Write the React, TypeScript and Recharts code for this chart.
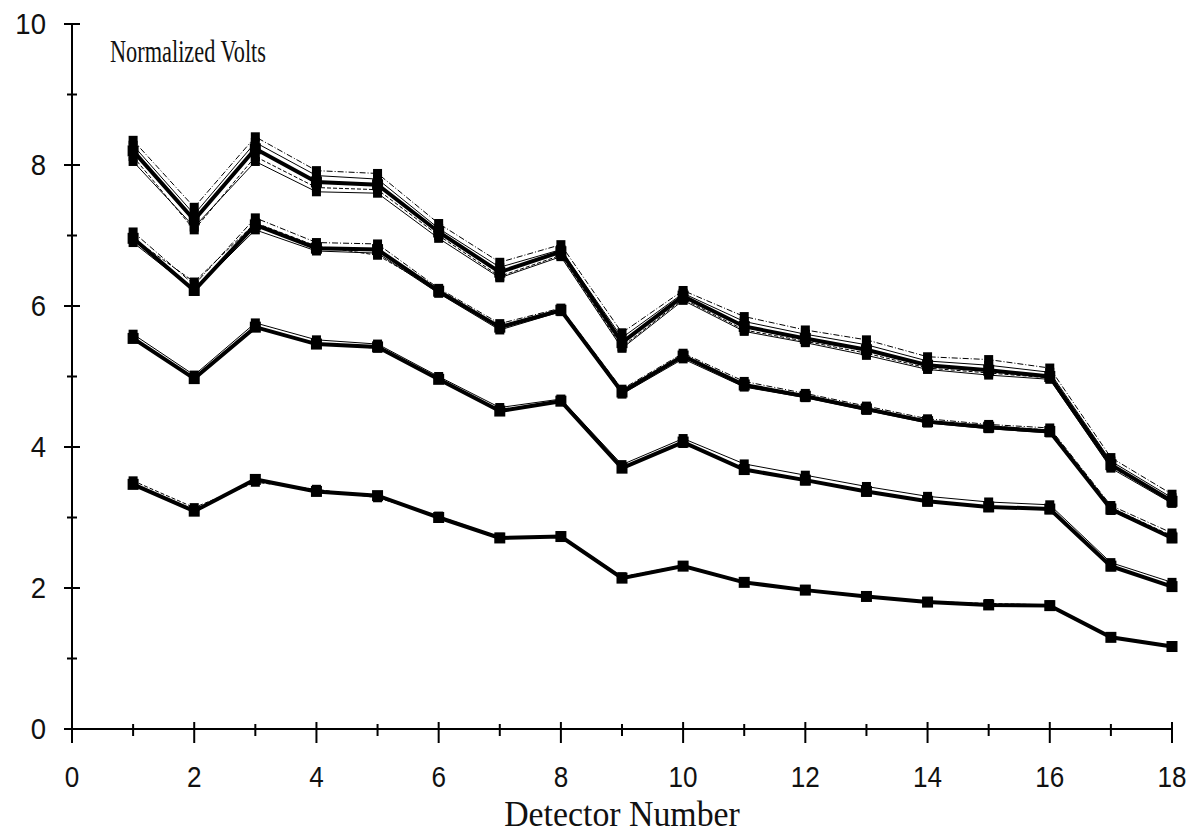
import React from 'react'
import { LineChart, Line, XAxis, YAxis } from 'recharts'

const detectors = [1, 2, 3, 4, 5, 6, 7, 8, 9, 10, 11, 12, 13, 14, 15, 16, 17, 18]
const xTicks = [0, 1, 2, 3, 4, 5, 6, 7, 8, 9, 10, 11, 12, 13, 14, 15, 16, 17, 18]
const yTicks = [0, 1, 2, 3, 4, 5, 6, 7, 8, 9, 10]

// top bundle
const g1Main = [8.2, 7.22, 8.23, 7.76, 7.72, 7.05, 6.48, 6.77, 5.48, 6.14, 5.71, 5.54, 5.38, 5.16, 5.09, 5.0, 3.75, 3.23]
const g1a = [8.35, 7.4, 8.4, 7.92, 7.88, 7.17, 6.62, 6.87, 5.62, 6.22, 5.85, 5.66, 5.52, 5.28, 5.24, 5.12, 3.85, 3.33]
const g1b = [8.28, 7.3, 8.32, 7.85, 7.8, 7.1, 6.55, 6.8, 5.55, 6.18, 5.78, 5.6, 5.45, 5.22, 5.16, 5.06, 3.8, 3.28]
const g1c = [8.12, 7.08, 8.12, 7.68, 7.65, 7.0, 6.42, 6.72, 5.42, 6.1, 5.66, 5.5, 5.33, 5.12, 5.05, 4.98, 3.72, 3.22]
const g1d = [8.05, 7.12, 8.05, 7.62, 7.6, 6.96, 6.4, 6.7, 5.4, 6.08, 5.64, 5.48, 5.3, 5.1, 5.02, 4.96, 3.7, 3.2]

// second bundle
const g2Main = [6.96, 6.22, 7.15, 6.82, 6.8, 6.21, 5.7, 5.94, 4.78, 5.29, 4.88, 4.72, 4.54, 4.36, 4.28, 4.22, 3.12, 2.71]
const g2a = [7.05, 6.3, 7.25, 6.9, 6.88, 6.25, 5.75, 5.97, 4.82, 5.33, 4.93, 4.76, 4.58, 4.4, 4.32, 4.27, 3.17, 2.78]
const g2b = [6.9, 6.22, 7.08, 6.78, 6.75, 6.18, 5.66, 5.92, 4.75, 5.25, 4.85, 4.7, 4.52, 4.34, 4.26, 4.2, 3.1, 2.7]
const g2c = [6.96, 6.34, 7.18, 6.85, 6.72, 6.22, 5.7, 5.95, 4.8, 5.3, 4.89, 4.73, 4.55, 4.37, 4.3, 4.24, 3.14, 2.74]

// third bundle
const g3Main = [5.54, 4.97, 5.7, 5.46, 5.42, 4.96, 4.51, 4.65, 3.7, 4.07, 3.68, 3.53, 3.37, 3.23, 3.15, 3.12, 2.31, 2.02]
const g3a = [5.6, 5.02, 5.76, 5.52, 5.46, 5.0, 4.56, 4.68, 3.75, 4.12, 3.76, 3.6, 3.44, 3.3, 3.22, 3.18, 2.36, 2.08]
const g3b = [5.55, 4.98, 5.7, 5.47, 5.4, 4.96, 4.52, 4.65, 3.7, 4.05, 3.68, 3.52, 3.36, 3.22, 3.14, 3.11, 2.3, 2.02]

// bottom bundle
const g4Main = [3.47, 3.09, 3.54, 3.37, 3.31, 3.0, 2.71, 2.73, 2.14, 2.31, 2.08, 1.97, 1.88, 1.8, 1.76, 1.75, 1.3, 1.17]
const g4a = [3.52, 3.14, 3.5, 3.4, 3.28, 3.02, 2.72, 2.74, 2.16, 2.32, 2.09, 1.98, 1.89, 1.81, 1.78, 1.76, 1.31, 1.18]

const series = [
  { key: 'g1a', values: g1a, main: false, dash: '6 2 1 2' },
  { key: 'g1b', values: g1b, main: false, dash: undefined },
  { key: 'g1c', values: g1c, main: false, dash: '4 2' },
  { key: 'g1d', values: g1d, main: false, dash: undefined },
  { key: 'g2a', values: g2a, main: false, dash: '6 2 1 2' },
  { key: 'g2b', values: g2b, main: false, dash: undefined },
  { key: 'g2c', values: g2c, main: false, dash: '4 2' },
  { key: 'g3a', values: g3a, main: false, dash: undefined },
  { key: 'g3b', values: g3b, main: false, dash: '6 2 1 2' },
  { key: 'g4a', values: g4a, main: false, dash: '4 2' },
  { key: 'g1', values: g1Main, main: true, dash: undefined },
  { key: 'g2', values: g2Main, main: true, dash: undefined },
  { key: 'g3', values: g3Main, main: true, dash: undefined },
  { key: 'g4', values: g4Main, main: true, dash: undefined },
]

const data = detectors.map((d, i) => {
  const row: Record<string, number> = { detector: d }
  series.forEach((s) => (row[s.key] = s.values[i]))
  return row
})

const sans = 'Liberation Sans, Arial, sans-serif'
const serif = 'Liberation Serif, Times New Roman, serif'

function XTick(props: any) {
  const { x, y, payload } = props
  const major = payload.value % 2 === 0
  return (
    <g>
      <line x1={x} x2={x} y1={y - (major ? 7 : 5)} y2={y + (major ? 14 : 7)} stroke="#000" strokeWidth={2} />
      {major && (
        <text transform={`translate(${x},${y + 58}) scale(0.9,1)`} textAnchor="middle" fontFamily={sans} fontSize={29} fill="#111">
          {payload.value}
        </text>
      )}
    </g>
  )
}

function YTick(props: any) {
  const { x, y, payload } = props
  const major = payload.value % 2 === 0
  const len = major ? 8 : 5
  return (
    <g>
      <line x1={x - len} x2={x + len} y1={y} y2={y} stroke="#000" strokeWidth={2} />
      {major && (
        <text transform={`translate(${x - 26},${y + 10}) scale(0.95,1)`} textAnchor="end" fontFamily={sans} fontSize={29} fill="#111">
          {payload.value}
        </text>
      )}
    </g>
  )
}

function squareDot(size: number) {
  return (p: any) => (
    <rect key={`${p.dataKey}-${p.index}`} x={p.cx - size / 2} y={p.cy - size / 2} width={size} height={size} fill="#000" />
  )
}

export default function App() {
  return (
    <div style={{ position: 'absolute', left: 0, top: 0, width: 1190, height: 836, background: '#fff' }}>
      <style>{'html,body{overflow:hidden}'}</style>
      <LineChart width={1190} height={836} data={data} margin={{ top: 24, right: 18, left: 0, bottom: 0 }}>
        <XAxis
          type="number"
          dataKey="detector"
          domain={[0, 18]}
          ticks={xTicks}
          interval={0}
          tickSize={0}
          tickMargin={0}
          tickLine={false}
          axisLine={{ stroke: '#000', strokeWidth: 2 }}
          tick={<XTick />}
          height={107}
          label={{
            content: (p: any) => {
              const vb = p.viewBox
              return (
                <text transform={`translate(${vb.x + vb.width / 2},${vb.y + 97}) scale(0.94,1)`} textAnchor="middle" fontFamily={serif} fontSize={36} fill="#111">
                  Detector Number
                </text>
              )
            },
          }}
        />
        <YAxis
          type="number"
          domain={[0, 10]}
          ticks={yTicks}
          interval={0}
          tickSize={0}
          tickMargin={0}
          tickLine={false}
          axisLine={{ stroke: '#000', strokeWidth: 2 }}
          tick={<YTick />}
          width={72}
          label={{
            content: (p: any) => {
              const vb = p.viewBox
              return (
                <text transform={`translate(${vb.x + vb.width + 38},${vb.y + 38}) scale(0.72,1)`} fontFamily={serif} fontSize={31} fill="#111">
                  Normalized Volts
                </text>
              )
            },
          }}
        />
        {series.map((s) => (
          <Line
            key={s.key}
            dataKey={s.key}
            stroke="#000"
            strokeWidth={s.main ? 4 : 1}
            strokeDasharray={s.dash}
            dot={squareDot(s.main ? 11 : 9)}
            activeDot={false}
            isAnimationActive={false}
          />
        ))}
      </LineChart>
    </div>
  )
}
